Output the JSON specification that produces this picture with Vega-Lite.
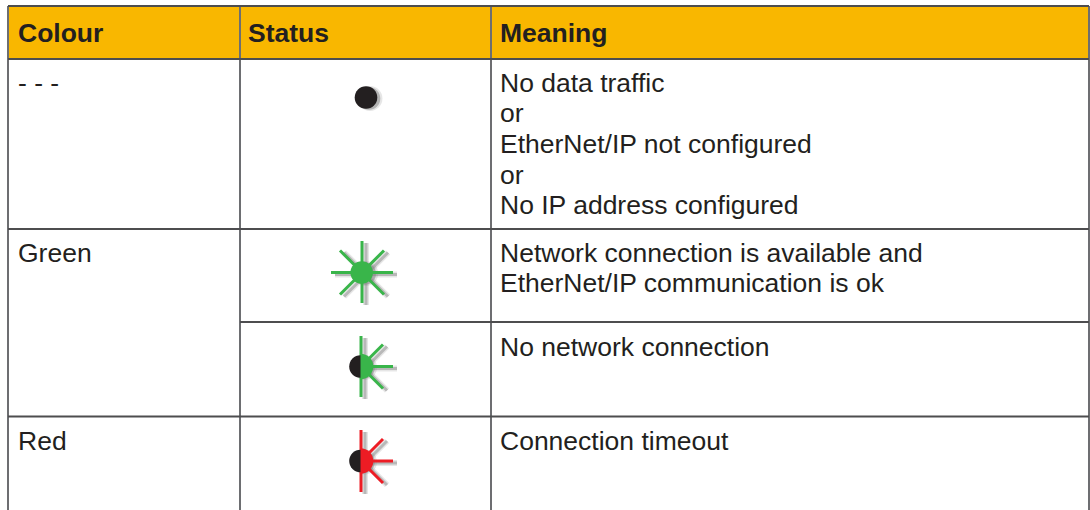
{"$schema":"https://vega.github.io/schema/vega-lite/v6.json","width":1090,"height":510,"padding":0,"autosize":{"type":"fit","contains":"padding"},"background":"white","config":{"view":{"stroke":null}},
"datasets":{
"header":[{"x":8,"y":6,"x2":1089,"y2":59}],
"gridH":[
{"x":8,"y":6,"x2":1089,"y2":6},{"x":8,"y":59,"x2":1089,"y2":59},{"x":8,"y":229,"x2":1089,"y2":229},{"x":240,"y":322,"x2":1089,"y2":322},{"x":8,"y":416.5,"x2":1089,"y2":416.5}],
"gridV":[
{"x":8,"y":6,"x2":8,"y2":510},{"x":240,"y":6,"x2":240,"y2":510},{"x":491,"y":6,"x2":491,"y2":510},{"x":1089,"y":6,"x2":1089,"y2":510}],
"heads":[{"x":18,"y":42,"t":"Colour"},{"x":248,"y":42,"t":"Status"},{"x":500,"y":42,"t":"Meaning"}],
"body":[
{"x":18,"y":92,"t":"- - -"},{"x":18,"y":262,"t":"Green"},{"x":18,"y":450,"t":"Red"},
{"x":500,"y":92,"t":"No data traffic"},{"x":500,"y":122,"t":"or"},{"x":500,"y":153,"t":"EtherNet/IP not configured"},{"x":500,"y":184,"t":"or"},{"x":500,"y":214,"t":"No IP address configured"},
{"x":500,"y":262,"t":"Network connection is available and"},{"x":500,"y":292,"t":"EtherNet/IP communication is ok"},{"x":500,"y":356,"t":"No network connection"},{"x":500,"y":450,"t":"Connection timeout"}],
"rays":[
{"led":"green","x":362,"y":241,"x2":362,"y2":303},{"led":"green","x":331,"y":272.5,"x2":393,"y2":272.5},{"led":"green","x":340,"y":250.5,"x2":384,"y2":294.5},{"led":"green","x":340,"y":294.5,"x2":384,"y2":250.5},
{"led":"green","x":361,"y":336,"x2":361,"y2":397},{"led":"green","x":361,"y":366.5,"x2":393,"y2":366.5},{"led":"green","x":361,"y":366.5,"x2":383,"y2":344.5},{"led":"green","x":361,"y":366.5,"x2":383,"y2":388.5},
{"led":"red","x":361,"y":430,"x2":361,"y2":492},{"led":"red","x":361,"y":461,"x2":393,"y2":461},{"led":"red","x":361,"y":461,"x2":383,"y2":439},{"led":"red","x":361,"y":461,"x2":383,"y2":483}],
"dots":[{"led":"black","x":366,"y":97.5},{"led":"green","x":361.7,"y":272.5},{"led":"black","x":360.5,"y":366.5},{"led":"black","x":360.5,"y":461}],
"halves":[{"led":"green","x":360.5,"y":366.5},{"led":"red","x":360.5,"y":461}]
},
"encoding":{
"x":{"field":"x","type":"quantitative","axis":null,"scale":{"domain":[0,1090],"range":[0,1090],"nice":false,"zero":false}},
"y":{"field":"y","type":"quantitative","axis":null,"scale":{"domain":[0,510],"range":[0,510],"nice":false,"zero":false}}},
"layer":[
{"data":{"name":"header"},"mark":{"type":"rect","color":"#F9B700"},"encoding":{"x2":{"field":"x2"},"y2":{"field":"y2"}}},
{"data":{"name":"gridV"},"mark":{"type":"rule","color":"#6D6E71","strokeWidth":2},"encoding":{"x2":{"field":"x2"},"y2":{"field":"y2"}}},
{"data":{"name":"gridH"},"mark":{"type":"rule","color":"#4D4D4F","strokeWidth":2},"encoding":{"x2":{"field":"x2"},"y2":{"field":"y2"}}},
{"data":{"name":"heads"},"mark":{"type":"text","align":"left","baseline":"alphabetic","font":"Liberation Sans","fontWeight":"bold","fontSize":26.5,"color":"#231F20"},"encoding":{"text":{"field":"t"}}},
{"data":{"name":"body"},"mark":{"type":"text","align":"left","baseline":"alphabetic","font":"Liberation Sans","fontSize":26.5,"color":"#231F20"},"encoding":{"text":{"field":"t"}}},
{"data":{"name":"rays"},"mark":{"type":"rule","color":"#808080","opacity":0.2,"strokeWidth":6,"xOffset":4,"x2Offset":4,"yOffset":2,"y2Offset":2},"encoding":{"x2":{"field":"x2"},"y2":{"field":"y2"}}},
{"data":{"name":"rays"},"mark":{"type":"rule","color":"#808080","opacity":0.45,"strokeWidth":3,"xOffset":4,"x2Offset":4,"yOffset":2,"y2Offset":2},"encoding":{"x2":{"field":"x2"},"y2":{"field":"y2"}}},
{"data":{"name":"dots"},"mark":{"type":"circle","color":"#808080","opacity":0.2,"size":620,"xOffset":4,"yOffset":1},"encoding":{}},
{"data":{"name":"dots"},"mark":{"type":"circle","color":"#808080","opacity":0.5,"size":510,"xOffset":3,"yOffset":1},"encoding":{}},
{"data":{"name":"rays"},"mark":{"type":"rule","strokeWidth":3},"encoding":{"x2":{"field":"x2"},"y2":{"field":"y2"},"color":{"field":"led","type":"nominal","legend":null,"scale":{"domain":["black","green","red"],"range":["#231F20","#39B54A","#ED1C24"]}}}},
{"data":{"name":"dots"},"mark":{"type":"circle","opacity":1,"size":510},"encoding":{"color":{"field":"led","type":"nominal","legend":null,"scale":{"domain":["black","green","red"],"range":["#231F20","#39B54A","#ED1C24"]}}}},
{"data":{"name":"halves"},"mark":{"type":"arc","outerRadius":12.8,"innerRadius":0,"theta":0,"theta2":3.1416},"encoding":{"color":{"field":"led","type":"nominal","legend":null,"scale":{"domain":["black","green","red"],"range":["#231F20","#39B54A","#ED1C24"]}}}}
]}
